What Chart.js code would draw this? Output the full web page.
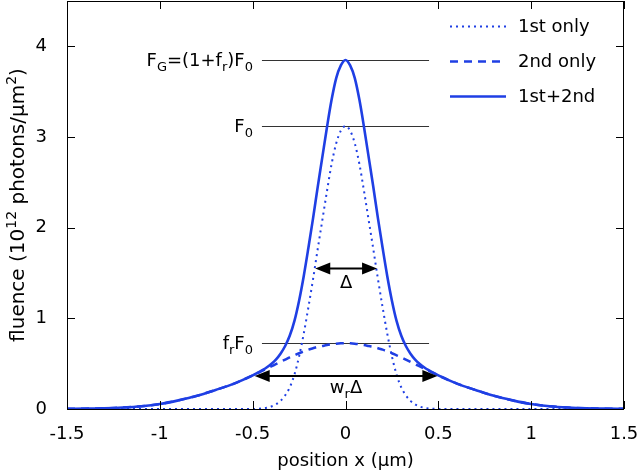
<!DOCTYPE html>
<html><head><meta charset="utf-8">
<script src="https://cdn.jsdelivr.net/npm/chart.js@4.4.1/dist/chart.umd.min.js"></script>
<style>html,body{margin:0;padding:0;background:#fff}</style>
</head><body>
<canvas id="c" width="640" height="473" style="width:640px;height:473px;display:block"></canvas>
<script>
// ---- data ----
const xs = [-1.5,-1.4,-1.3,-1.2,-1.1,-1.0,-0.9,-0.8,-0.7,-0.6,-0.5,-0.475,-0.45,-0.425,-0.4,-0.375,-0.35,-0.325,-0.3,-0.275,-0.25,-0.225,-0.2,-0.175,-0.15,-0.125,-0.1,-0.075,-0.05,-0.025,
  0,0.025,0.05,0.075,0.1,0.125,0.15,0.175,0.2,0.225,0.25,0.275,0.3,0.325,0.35,0.375,0.4,0.425,0.45,0.475,0.5,0.6,0.7,0.8,0.9,1.0,1.1,1.2,1.3,1.4,1.5];
const firstOnly = [0,0,0,0,0,0,0,0,0,0,0,0.002,0.006,0.013,0.027,0.05,0.09,0.15,0.24,0.38,0.58,0.83,1.12,1.43,1.76,2.08,2.40,2.70,2.93,3.07,
  3.12,3.07,2.93,2.70,2.40,2.08,1.76,1.43,1.12,0.83,0.58,0.38,0.24,0.15,0.09,0.05,0.027,0.013,0.006,0.002,0,0,0,0,0,0,0,0,0,0,0];
const secondOnly = [0.002,0.004,0.008,0.016,0.03,0.055,0.095,0.145,0.21,0.28,0.37,0.395,0.42,0.445,0.47,0.495,0.52,0.545,0.57,0.592,0.615,0.635,0.655,0.67,0.685,0.695,0.705,0.713,0.72,0.724,
  0.725,0.724,0.72,0.713,0.705,0.695,0.685,0.67,0.655,0.635,0.615,0.592,0.57,0.545,0.52,0.495,0.47,0.445,0.42,0.395,0.37,0.28,0.21,0.145,0.095,0.055,0.03,0.016,0.008,0.004,0.002];
const bothOrders = [0.002,0.004,0.008,0.016,0.03,0.055,0.095,0.145,0.21,0.28,0.37,0.397,0.426,0.458,0.497,0.545,0.61,0.695,0.81,0.972,1.195,1.465,1.775,2.10,2.445,2.775,3.105,3.41,3.65,3.79,
  3.85,3.79,3.65,3.41,3.105,2.775,2.445,2.10,1.775,1.465,1.195,0.972,0.81,0.695,0.61,0.545,0.497,0.458,0.426,0.397,0.37,0.28,0.21,0.145,0.095,0.055,0.03,0.016,0.008,0.004,0.002];
const seriesLabels = ['1st only','2nd only','1st+2nd'];
const xTicks = [-1.5,-1,-0.5,0,0.5,1,1.5];
const xTickLabels = ['-1.5','-1','-0.5','0','0.5','1','1.5'];
const yTicks = [0,1,2,3,4];
const yTickLabels = ['0','1','2','3','4'];
const levelValues = [3.85, 3.12, 0.725];           // F_G, F_0, f_r F_0
const levelSpan = [-0.45, 0.45];
const deltaArrow = [-0.163, 0.170, 1.55];           // x0, x1, y
const wrArrow = [-0.489, 0.495, 0.363];             // x0, x1, y

const BLUE = '#1f3fe4';
const FONT = 'DejaVu Sans, sans-serif';
const FS = 18;

function pts(ys){ return xs.map((x,i)=>({x:x,y:ys[i]})); }

// parts: [text, mode] mode 0 normal, 1 subscript, 2 superscript
function richText(ctx, parts, x, y, align, size){
  const small = Math.round(size*0.72);
  let w = 0;
  parts.forEach(p=>{ ctx.font = (p[1]?small:size)+'px '+FONT; w += ctx.measureText(p[0]).width; });
  let cx = align==='right' ? x - w : (align==='center' ? x - w/2 : x);
  ctx.textBaseline = 'alphabetic'; ctx.textAlign = 'left';
  parts.forEach(p=>{
    ctx.font = (p[1]?small:size)+'px '+FONT;
    const dy = p[1]===1 ? size*0.28 : (p[1]===2 ? -size*0.4 : 0);
    ctx.fillText(p[0], cx, y + dy);
    cx += ctx.measureText(p[0]).width;
  });
}

function arrowHead(ctx, x, y, dir){
  const L = 15, H = 6;
  ctx.beginPath();
  ctx.moveTo(x, y);
  ctx.lineTo(x - dir*L, y - H);
  ctx.lineTo(x - dir*L, y + H);
  ctx.closePath();
  ctx.fill();
}

const decor = {
  id: 'decor',
  beforeDatasetsDraw(chart){
    const ctx = chart.ctx, sx = chart.scales.x, sy = chart.scales.y;
    ctx.save();
    ctx.strokeStyle = '#333'; ctx.lineWidth = 1.2;
    levelValues.forEach(v=>{
      const py = Math.round(sy.getPixelForValue(v))+0.5;
      ctx.beginPath();
      ctx.moveTo(sx.getPixelForValue(levelSpan[0]), py);
      ctx.lineTo(sx.getPixelForValue(levelSpan[1]), py);
      ctx.stroke();
    });
    ctx.restore();
  },
  afterDatasetsDraw(chart){
    const ctx = chart.ctx, sx = chart.scales.x, sy = chart.scales.y, a = chart.chartArea;
    ctx.save();
    // frame
    ctx.strokeStyle = '#000'; ctx.lineWidth = 1;
    ctx.strokeRect(Math.round(a.left)+0.5, Math.round(a.top)+0.5, Math.round(a.right-a.left)-1, Math.round(a.bottom-a.top));
    // inward ticks (mirrored)
    const T = 8;
    ctx.beginPath();
    xTicks.forEach(v=>{
      const px = Math.round(sx.getPixelForValue(v))+0.5;
      ctx.moveTo(px, a.bottom); ctx.lineTo(px, a.bottom - T);
      ctx.moveTo(px, a.top); ctx.lineTo(px, a.top + T);
    });
    yTicks.forEach(v=>{
      const py = Math.round(sy.getPixelForValue(v))+0.5;
      ctx.moveTo(a.left, py); ctx.lineTo(a.left + T, py);
      ctx.moveTo(a.right, py); ctx.lineTo(a.right - T, py);
    });
    ctx.stroke();

    // y axis title with superscripts
    ctx.fillStyle = '#000';
    ctx.save();
    ctx.translate(24, (a.top + a.bottom)/2);
    ctx.rotate(-Math.PI/2);
    richText(ctx, [['fluence (10',0],['12',2],[' photons/μm',0],['2',2],[')',0]], 0, 0, 'center', 20);
    ctx.restore();

    // level labels
    const lx = sx.getPixelForValue(levelSpan[0]) - 9;
    const labels = [
      [['F',0],['G',1],['=(1+f',0],['r',1],[')F',0],['0',1]],
      [['F',0],['0',1]],
      [['f',0],['r',1],['F',0],['0',1]]
    ];
    levelValues.forEach((v,i)=>{
      richText(ctx, labels[i], lx, sy.getPixelForValue(v)+6, 'right', FS);
    });

    // arrows
    ctx.strokeStyle = '#000'; ctx.fillStyle = '#000'; ctx.lineWidth = 2;
    [deltaArrow, wrArrow].forEach(ar=>{
      const x0 = sx.getPixelForValue(ar[0]), x1 = sx.getPixelForValue(ar[1]), py = sy.getPixelForValue(ar[2]);
      ctx.beginPath(); ctx.moveTo(x0+6, py); ctx.lineTo(x1-6, py); ctx.stroke();
      arrowHead(ctx, x0, py, -1);
      arrowHead(ctx, x1, py, 1);
    });
    const dx = (sx.getPixelForValue(deltaArrow[0])+sx.getPixelForValue(deltaArrow[1]))/2;
    richText(ctx, [['Δ',0]], dx, sy.getPixelForValue(deltaArrow[2])+20, 'center', FS);
    const wx = (sx.getPixelForValue(wrArrow[0])+sx.getPixelForValue(wrArrow[1]))/2;
    richText(ctx, [['w',0],['r',1],['Δ',0]], wx, sy.getPixelForValue(wrArrow[2])+17, 'center', FS);

    // legend
    const ds = chart.data.datasets;
    const rows = [26, 61, 96];
    ds.forEach((d,i)=>{
      ctx.save();
      ctx.strokeStyle = d.borderColor; ctx.lineWidth = d.borderWidth;
      ctx.setLineDash(d.borderDash || []);
      ctx.beginPath(); ctx.moveTo(450, rows[i]+0.5); ctx.lineTo(506, rows[i]+0.5); ctx.stroke();
      ctx.restore();
      ctx.fillStyle = '#000';
      ctx.font = FS+'px '+FONT; ctx.textAlign='left'; ctx.textBaseline='middle';
      ctx.fillText(seriesLabels[i], 518, rows[i]+1);
    });
    ctx.restore();
  }
};

Chart.defaults.font.family = FONT;
Chart.defaults.font.size = FS;
Chart.defaults.color = '#000';

function zeroPad(s){ s.paddingTop = 0; s.paddingBottom = 0; s.paddingLeft = 0; s.paddingRight = 0; }

new Chart(document.getElementById('c'), {
  type: 'line',
  data: {
    datasets: [
      {label: seriesLabels[0], data: pts(firstOnly), borderColor: BLUE, borderWidth: 2, borderDash: [2,4], pointRadius: 0, cubicInterpolationMode: 'monotone', clip: 4},
      {label: seriesLabels[1], data: pts(secondOnly), borderColor: BLUE, borderWidth: 2.5, borderDash: [8,6], pointRadius: 0, cubicInterpolationMode: 'monotone', clip: 4},
      {label: seriesLabels[2], data: pts(bothOrders), borderColor: BLUE, borderWidth: 2.6, pointRadius: 0, cubicInterpolationMode: 'monotone', clip: 4}
    ]
  },
  options: {
    responsive: false, animation: false, devicePixelRatio: 1,
    layout: {autoPadding: false, padding: {top: 1, right: 16, bottom: 0, left: 0}},
    plugins: {legend: {display: false}, tooltip: {enabled: false}},
    scales: {
      x: {
        type: 'linear', min: -1.5, max: 1.5,
        afterBuildTicks: s => { s.ticks = xTicks.map(v=>({value:v})); },
        afterFit: s => { s.height = 64; zeroPad(s); },
        ticks: {autoSkip: false, maxRotation: 0, padding: 7, callback: (v,i)=>xTickLabels[i]},
        grid: {display: false}, border: {display: false},
        title: {display: true, text: 'position x (μm)', padding: {top: 0, bottom: 1}}
      },
      y: {
        type: 'linear', min: 0, max: 4.5,
        afterBuildTicks: s => { s.ticks = yTicks.map(v=>({value:v})); },
        afterFit: s => { s.width = 67; zeroPad(s); },
        ticks: {padding: 12, callback: (v,i)=>yTickLabels[i]},
        grid: {display: false}, border: {display: false},
        title: {display: false}
      }
    }
  },
  plugins: [decor]
});
</script>
</body></html>
